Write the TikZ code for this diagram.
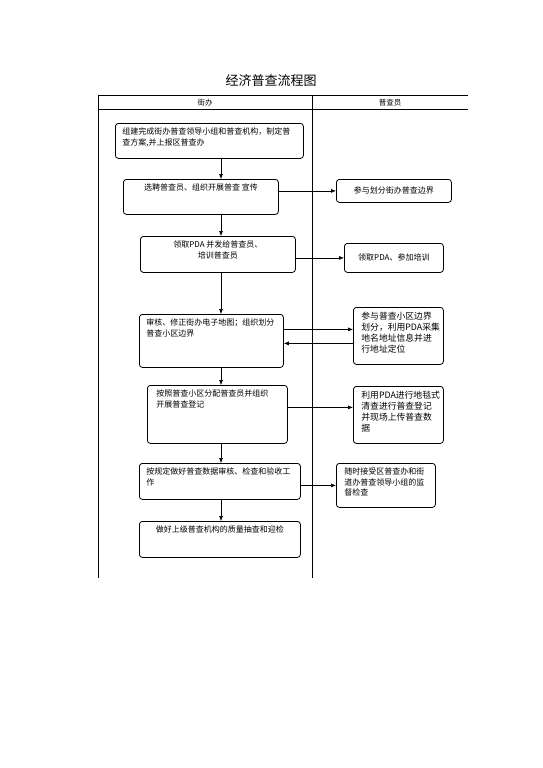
\documentclass[tikz,border=0pt]{standalone}
\usepackage{fontspec}
\setmainfont{Noto Sans CJK SC}
\usepackage{tikz}
\usetikzlibrary{arrows.meta, positioning, calc}

\newcommand{\celltext}[3]{\parbox[t][#2][t]{#1}{#3}}

\begin{document}
\begin{tikzpicture}[
    x=1pt, y=-1pt,
    >={Latex[length=5pt,width=4pt]},
    arrow/.style={->,line width=0.6pt},
    lane/.style={line width=0.8pt,black},
    stepbox/.style={rectangle,rounded corners=3pt,draw=black,line width=0.8pt,
        inner xsep=7pt,inner ysep=4.5pt,font=\fontsize{8}{10.5}\selectfont},
    sidebox/.style={stepbox,inner xsep=8pt},
    title/.style={font=\fontsize{13}{15}\selectfont},
    header/.style={font=\fontsize{7.5}{9}\selectfont}
]
\useasboundingbox (0,0) rectangle (542,768);

%--------------------------------------------------------------------
% Title and swim lanes
%--------------------------------------------------------------------
\node[title] (title) at (271,81) {经济普查流程图};

\coordinate (tl) at (98,95.5);
\coordinate (tr) at (468,95.5);
\coordinate (hl) at (98,109.5);
\coordinate (hr) at (468,109.5);
\coordinate (bl) at (98,578);
\coordinate (dt) at (312,95.5);
\coordinate (db) at (312,578);

\draw[lane] (tl) -- (tr);
\draw[lane] (hl) -- (hr);
\draw[lane] (tl) -- (bl);
\draw[lane] (dt) -- (db);

\node[header] (laneA) at (205,102.5) {街办};
\node[header] (laneB) at (390,102.5) {普查员};

% x of the main flow
\coordinate (spine) at (221,0);

%--------------------------------------------------------------------
% Left lane: street office
%--------------------------------------------------------------------
\node[stepbox,anchor=north west] (b1) at (115,123)
    {\celltext{174pt}{26pt}{组建完成街办普查领导小组和普查机构，制定普\\查方案,并上报区普查办}};
\node[stepbox,anchor=north west] (b2) at (123,179)
    {\celltext{141pt}{26pt}{\centering 选聘普查员、组织开展普查 宣传}};
\node[stepbox,anchor=north west] (b3) at (140,236)
    {\celltext{141pt}{27pt}{\centering 领取PDA 并发给普查员、\\培训普查员}};
\node[stepbox,anchor=north west] (b4) at (139,314)
    {\celltext{130pt}{44pt}{审核、修正街办电子地图；组织划分\\普查小区边界}};
\node[stepbox,anchor=north west,inner xsep=9pt] (b5) at (147,385)
    {\celltext{122pt}{49pt}{按照普查小区分配普查员并组织\\开展普查登记}};
\node[stepbox,anchor=north west] (b6) at (139,463)
    {\celltext{147pt}{27pt}{按规定做好普查数据审核、检查和验收工\\作}};
\node[stepbox,anchor=north west] (b7) at (139,521)
    {\celltext{147pt}{27pt}{\centering 做好上级普查机构的质量抽查和迎检}};

%--------------------------------------------------------------------
% Right lane: enumerators
%--------------------------------------------------------------------
\node[sidebox,anchor=north west,inner ysep=0pt] (r1) at (336,179)
    {\celltext{99pt}{23pt}{\vfill\centering 参与划分街办普查边界\vfill}};
\node[sidebox,anchor=north west,inner ysep=0pt] (r2) at (344,243)
    {\celltext{83pt}{29pt}{\vfill\centering 领取PDA、参加培训\vfill}};
\node[sidebox,anchor=north west,font=\fontsize{8.8}{11}\selectfont] (r3) at (353,307)
    {\celltext{74pt}{48pt}{参与普查小区边界\\划分，利用PDA采集\\地名地址信息并进\\行地址定位}};
\node[sidebox,anchor=north west,font=\fontsize{8.8}{11}\selectfont] (r4) at (353,386)
    {\celltext{74pt}{48pt}{利用PDA进行地毯式\\清查进行普查登记\\并现场上传普查数\\据}};
\node[sidebox,anchor=north west] (r5) at (336,463)
    {\celltext{83pt}{35pt}{随时接受区普查办和街\\道办普查领导小组的监\\督检查}};

%--------------------------------------------------------------------
% Main flow
%--------------------------------------------------------------------
\draw[arrow] (b1.south -| spine) -- (b2.north -| spine);
\draw[arrow] (b2.south -| spine) -- (b3.north -| spine);
\draw[arrow] (b3.south -| spine) -- (b4.north -| spine);
\draw[arrow] (b4.south -| spine) -- (b5.north -| spine);
\draw[arrow] (b5.south -| spine) -- (b6.north -| spine);
\draw[arrow] (b6.south -| spine) -- (b7.north -| spine);

% across the lanes
\draw[arrow] (b2.east |- r1.west) -- (r1.west);
\draw[arrow] (b3.east |- r2.west) -- (r2.west);
\draw[arrow] ([yshift=6.5pt]b4.east |- r3.west) -- ([yshift=6.5pt]r3.west);
\draw[arrow] ([yshift=-7.5pt]r3.west) -- ([yshift=-7.5pt]b4.east |- r3.west);
\draw[arrow] ([yshift=7.5pt]b5.east |- r4.west) -- ([yshift=7.5pt]r4.west);
\draw[arrow] (b6.east |- r5.west) -- (r5.west);

\end{tikzpicture}
\end{document}
